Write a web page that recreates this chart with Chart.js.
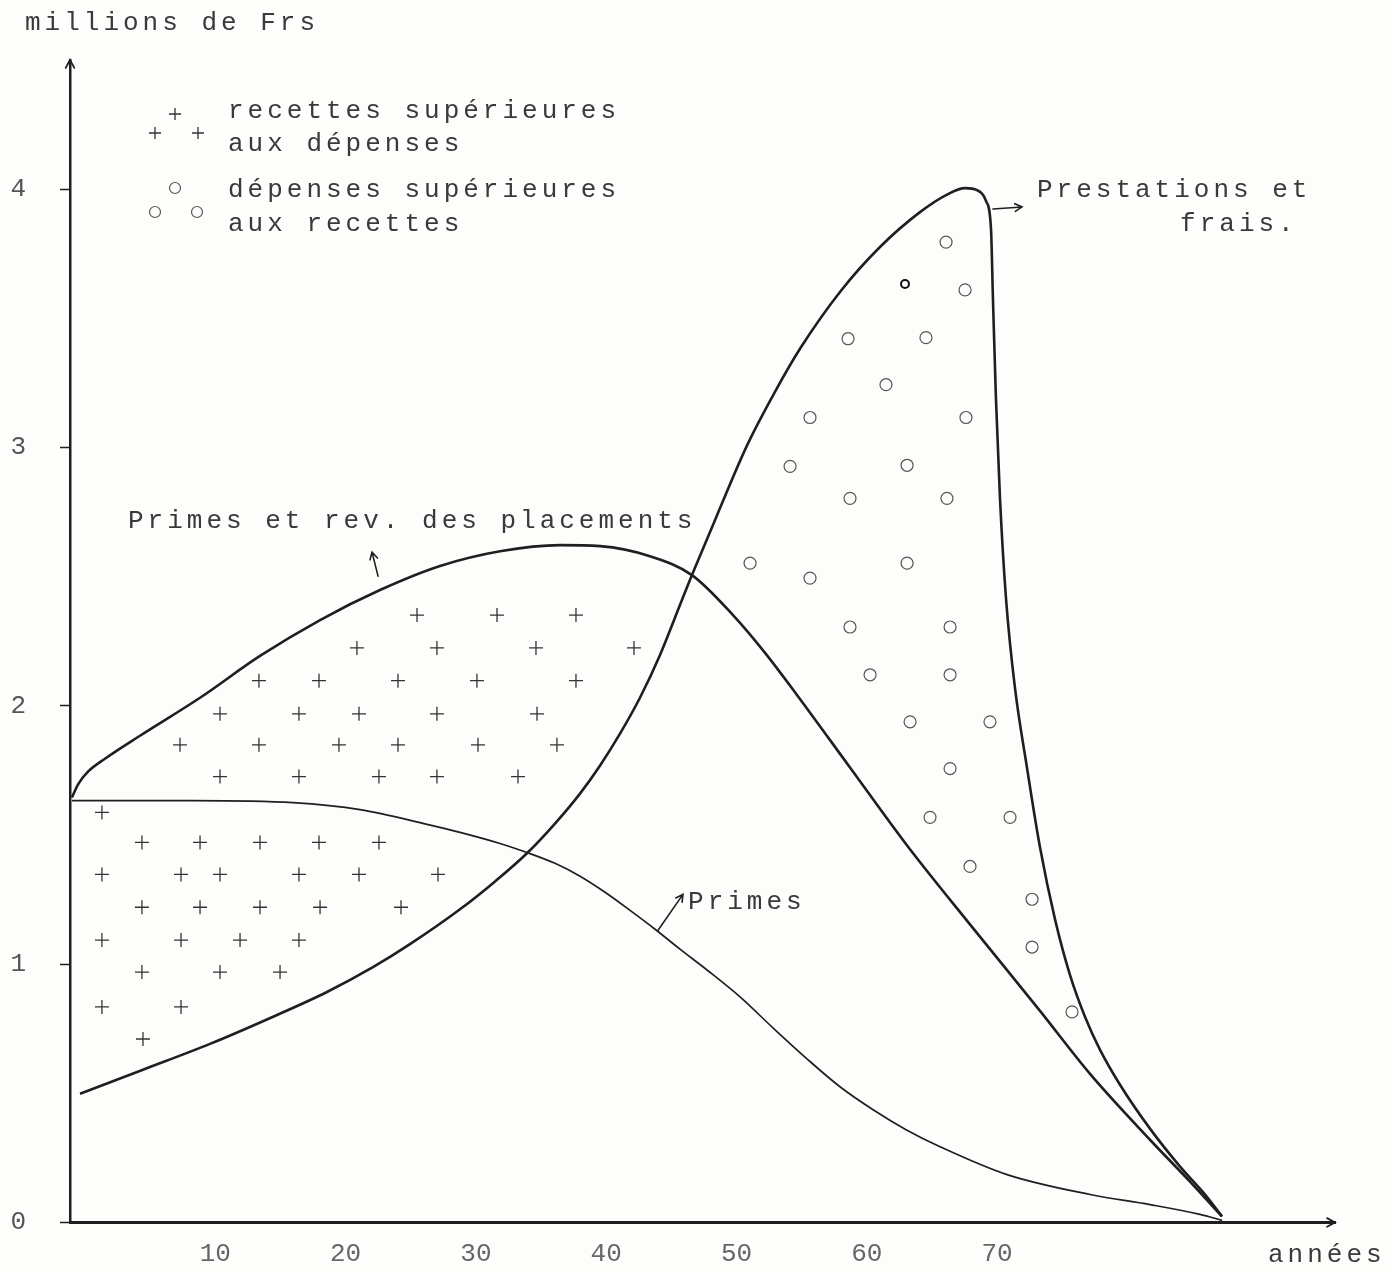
<!DOCTYPE html>
<html>
<head>
<meta charset="utf-8">
<script src="https://cdn.jsdelivr.net/npm/chart.js@4.4.1/dist/chart.umd.min.js"></script>
<style>
  html, body { margin: 0; padding: 0; background: #fdfdfb; }
  #wrap { width: 1392px; height: 1272px; position: relative; }
</style>
</head>
<body>
<div id="wrap"><canvas id="chart"></canvas></div>
<script>
// axis ticks
const YEAR_TICKS  = [10, 20, 30, 40, 50, 60, 70];
const VALUE_TICKS = [0, 1, 2, 3, 4];

// "Primes et rev. des placements" (années, millions de Frs)
const REV_X = [-1.0, -0.54, 0.23, 1.53, 4.22, 8.83, 13.43, 18.04, 22.64, 27.25, 31.85, 36.45, 39.52,
               43.36, 46.58, 49.73, 52.19, 54.64, 58.71, 63.09, 68.15, 73.29, 77.13, 81.73, 84.80, 87.26];
const REV_Y = [1.645, 1.695, 1.745, 1.795, 1.884, 2.031, 2.193, 2.332, 2.448, 2.541, 2.598, 2.622, 2.618,
               2.579, 2.506, 2.351, 2.205, 2.042, 1.761, 1.459, 1.139, 0.819, 0.575, 0.320, 0.158, 0.023];

// "Prestations et frais."
const PREST_X = [-0.38, 4.45, 9.59, 14.74, 18.57, 22.10, 24.94, 28.78, 31.47, 33.92,
                 36.07, 37.99, 39.52, 41.06, 42.59, 44.13, 45.66, 46.58, 48.50, 50.81,
                 52.96, 54.87, 57.94, 61.01, 64.08, 66.23, 67.54, 68.46, 69.15, 69.53,
                 69.68, 69.91, 70.22, 70.68, 71.37, 72.29, 73.29, 74.44, 75.59, 76.75,
                 77.90, 79.43, 81.73, 84.04, 85.96, 87.26];
const PREST_Y = [0.498, 0.591, 0.691, 0.803, 0.892, 0.988, 1.077, 1.212, 1.320, 1.429,
                 1.544, 1.660, 1.768, 1.892, 2.031, 2.197, 2.390, 2.506, 2.737, 3.008,
                 3.216, 3.382, 3.602, 3.776, 3.911, 3.981, 4.004, 3.996, 3.954, 3.846,
                 3.575, 3.189, 2.803, 2.417, 2.069, 1.761, 1.452, 1.174, 0.958, 0.795,
                 0.668, 0.533, 0.363, 0.216, 0.108, 0.023];

// "Primes"
const PRIMES_X = [-1.0, 2.69, 8.29, 15.96, 21.10, 26.25, 28.78, 31.85, 33.92, 36.07, 37.99, 39.91, 41.83,
                  43.75, 45.66, 47.74, 50.27, 52.80, 55.41, 57.94, 60.48, 63.01, 65.62, 70.76, 77.13,
                  81.73, 85.57, 87.26];
const PRIMES_Y = [1.633, 1.633, 1.633, 1.625, 1.598, 1.541, 1.510, 1.467, 1.432, 1.390, 1.340, 1.278, 1.208,
                  1.135, 1.058, 0.977, 0.873, 0.753, 0.633, 0.525, 0.436, 0.359, 0.293, 0.185, 0.108,
                  0.069, 0.031, 0.008];

// "+" : recettes supérieures aux dépenses
const PLUS_X = [25.48, 31.62, 37.68,
                20.87, 27.01, 34.61, 42.13,
                13.35, 17.96, 24.02, 30.08, 37.68,
                10.36, 16.42, 21.03, 27.01, 34.69,
                7.29, 13.35, 19.49, 24.02, 30.16, 36.22,
                10.36, 16.42, 22.56, 27.01, 33.23,
                1.30,
                4.37, 8.83, 13.43, 17.96, 22.56,
                1.30, 7.37, 10.36, 16.42, 21.03, 27.09,
                4.37, 8.83, 13.43, 18.04, 24.25,
                1.30, 7.37, 11.90, 16.42,
                4.37, 10.36, 14.97,
                1.30, 7.37,
                4.45];
const PLUS_Y = [2.351, 2.351, 2.351,
                2.224, 2.224, 2.224, 2.224,
                2.097, 2.097, 2.097, 2.097, 2.097,
                1.969, 1.969, 1.969, 1.969, 1.969,
                1.849, 1.849, 1.849, 1.849, 1.849, 1.849,
                1.726, 1.726, 1.726, 1.726, 1.726,
                1.587,
                1.471, 1.471, 1.471, 1.471, 1.471,
                1.347, 1.347, 1.347, 1.347, 1.347, 1.347,
                1.220, 1.220, 1.220, 1.220, 1.220,
                1.093, 1.093, 1.093, 1.093,
                0.969, 0.969, 0.969,
                0.834, 0.834,
                0.710];

// "o" : dépenses supérieures aux recettes
const CIRCLE_X = [66.08, 67.54, 58.56, 64.54, 61.47, 55.64, 67.61, 54.11, 63.09, 58.71, 66.15,
                  51.04, 55.64, 63.09, 58.71, 66.39, 60.25, 66.39, 63.32, 69.45, 66.39,
                  64.85, 70.99, 67.92, 72.68, 72.68, 75.75];
const CIRCLE_Y = [3.795, 3.610, 3.421, 3.425, 3.243, 3.116, 3.116, 2.927, 2.931, 2.803, 2.803,
                  2.552, 2.494, 2.552, 2.305, 2.305, 2.120, 2.120, 1.938, 1.938, 1.757,
                  1.568, 1.568, 1.378, 1.251, 1.066, 0.815];
const DARK_CIRCLE_X = [62.93];
const DARK_CIRCLE_Y = [3.633];

const pts = (xs, ys) => xs.map((x, i) => ({ x, y: ys[i] }));

const INK = '#1f1f1f';
const TYPE_INK = '#3a3a3a';
const TYPE_FONT = '26px "Liberation Mono", "DejaVu Sans Mono", monospace';

// typed labels placed in data units
const NOTES = [
  { text: 'Primes et rev. des placements', x: 3.30, y: 2.687 },
  { text: 'Prestations et', x: 73.06, y: 3.969 },
  { text: 'frais.', x: 84.04, y: 3.838 },
  { text: 'Primes', x: 46.28, y: 1.212 },
];
const NOTE_ARROWS = [
  { from: [22.49, 2.502], to: [22.03, 2.595] },
  { from: [69.68, 3.923], to: [71.91, 3.931] },
  { from: [43.98, 1.131], to: [45.89, 1.270] },
];

function typeText(ctx, text, x, y, align) {
  ctx.save();
  ctx.font = TYPE_FONT;
  ctx.fillStyle = TYPE_INK;
  ctx.letterSpacing = '4px';
  ctx.textAlign = align || 'left';
  ctx.textBaseline = 'alphabetic';
  ctx.fillText(text, x, y);
  ctx.restore();
}

function arrow(ctx, x1, y1, x2, y2, head, width) {
  const a = Math.atan2(y2 - y1, x2 - x1);
  ctx.save();
  ctx.strokeStyle = INK;
  ctx.lineWidth = width || 1.8;
  ctx.lineCap = 'round';
  ctx.beginPath();
  ctx.moveTo(x1, y1); ctx.lineTo(x2, y2);
  ctx.moveTo(x2 - head * Math.cos(a - 0.5), y2 - head * Math.sin(a - 0.5));
  ctx.lineTo(x2, y2);
  ctx.lineTo(x2 - head * Math.cos(a + 0.5), y2 - head * Math.sin(a + 0.5));
  ctx.stroke();
  ctx.restore();
}

function legendCross(ctx, cx, cy) {
  ctx.beginPath();
  ctx.moveTo(cx - 6, cy); ctx.lineTo(cx + 6, cy);
  ctx.moveTo(cx, cy - 6); ctx.lineTo(cx, cy + 6);
  ctx.stroke();
}

function legendRing(ctx, cx, cy) {
  ctx.beginPath();
  ctx.arc(cx, cy, 5.5, 0, Math.PI * 2);
  ctx.stroke();
}

const typedLayer = {
  id: 'typedLayer',
  afterDraw(chart) {
    const { ctx, chartArea: ca, scales: { x, y } } = chart;

    // axis arrow heads
    arrow(ctx, ca.left, ca.top + 20, ca.left, ca.top, 9, 1.8);
    arrow(ctx, ca.right - 20, ca.bottom, ca.right, ca.bottom, 9, 1.8);

    typeText(ctx, 'millions de Frs', 25, 30);
    typeText(ctx, 'années', 1268, 1262);

    // legend
    ctx.save();
    ctx.strokeStyle = '#333';
    ctx.lineWidth = 1.3;
    legendCross(ctx, 175, 114);
    legendCross(ctx, 155, 133);
    legendCross(ctx, 198, 133);
    ctx.strokeStyle = '#555';
    ctx.lineWidth = 1.2;
    legendRing(ctx, 175, 188);
    legendRing(ctx, 155, 212);
    legendRing(ctx, 197, 212);
    ctx.restore();
    typeText(ctx, 'recettes supérieures', 228, 118);
    typeText(ctx, 'aux dépenses', 228, 151);
    typeText(ctx, 'dépenses supérieures', 228, 197);
    typeText(ctx, 'aux recettes', 228, 231);

    NOTES.forEach(n => typeText(ctx, n.text, x.getPixelForValue(n.x), y.getPixelForValue(n.y)));
    NOTE_ARROWS.forEach(a => arrow(ctx,
      x.getPixelForValue(a.from[0]), y.getPixelForValue(a.from[1]),
      x.getPixelForValue(a.to[0]), y.getPixelForValue(a.to[1]), 8, 1.6));
  },
};

const curve = (label, xs, ys, width) => ({
  label, data: pts(xs, ys), showLine: true, pointRadius: 0,
  borderColor: INK, borderWidth: width, cubicInterpolationMode: 'monotone', fill: false,
});

new Chart(document.getElementById('chart'), {
  type: 'scatter',
  data: {
    datasets: [
      curve('Primes et rev. des placements', REV_X, REV_Y, 2.6),
      curve('Prestations et frais', PREST_X, PREST_Y, 2.6),
      curve('Primes', PRIMES_X, PRIMES_Y, 1.7),
      { label: 'recettes > dépenses', data: pts(PLUS_X, PLUS_Y), pointStyle: 'cross',
        pointRadius: 7, borderColor: '#333', borderWidth: 1.3 },
      { label: 'dépenses > recettes', data: pts(CIRCLE_X, CIRCLE_Y), pointStyle: 'circle',
        pointRadius: 6, borderColor: '#555', backgroundColor: 'rgba(0,0,0,0)', borderWidth: 1.2 },
      { label: 'dépenses > recettes (foncé)', data: pts(DARK_CIRCLE_X, DARK_CIRCLE_Y), pointStyle: 'circle',
        pointRadius: 4, borderColor: '#111', backgroundColor: 'rgba(0,0,0,0)', borderWidth: 2 },
    ],
  },
  options: {
    responsive: true,
    maintainAspectRatio: false,
    animation: false,
    events: [],
    layout: { padding: { top: 60, right: 57, bottom: 0, left: 0 } },
    plugins: { legend: { display: false }, tooltip: { enabled: false } },
    scales: {
      x: {
        type: 'linear', min: -1.15, max: 95.93,
        afterBuildTicks: s => { s.ticks = YEAR_TICKS.map(v => ({ value: v })); },
        afterFit: s => { s.height = 46; },
        grid: { display: true, drawOnChartArea: false, drawTicks: false },
        border: { display: true, color: INK, width: 3 },
        ticks: { color: '#666', padding: 16, maxRotation: 0,
                 font: { family: '"Liberation Mono", monospace', size: 26 } },
      },
      y: {
        type: 'linear', min: 0, max: 4.5,
        afterBuildTicks: s => { s.ticks = VALUE_TICKS.map(v => ({ value: v })); },
        afterFit: s => { s.width = 70; },
        grid: { display: true, drawOnChartArea: false, drawTicks: true, tickLength: 10, color: INK, tickWidth: 1.5 },
        border: { display: true, color: INK, width: 2.5 },
        ticks: { color: '#555', padding: 34,
                 font: { family: '"Liberation Mono", monospace', size: 26 } },
      },
    },
  },
  plugins: [typedLayer],
});
</script>
</body>
</html>
